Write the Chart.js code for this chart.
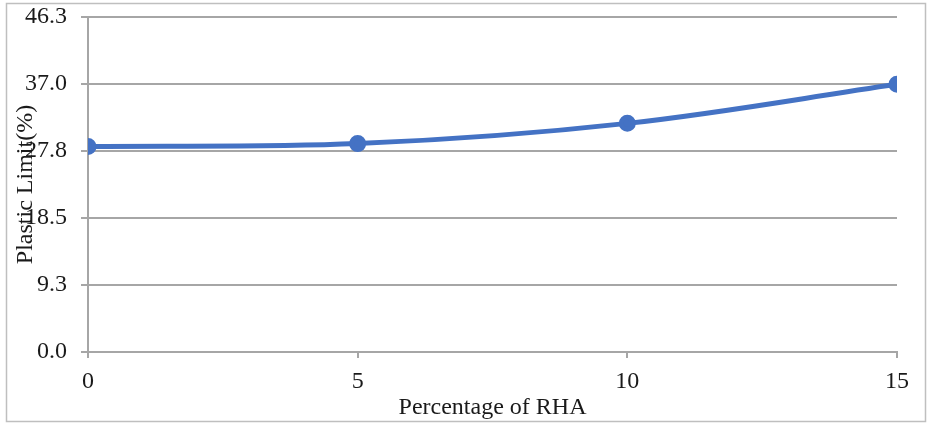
<!DOCTYPE html>
<html>
<head>
<meta charset="utf-8">
<script src="https://cdn.jsdelivr.net/npm/chart.js@4/dist/chart.umd.min.js"></script>
<style>
  html, body { margin: 0; padding: 0; background: #ffffff; }
  #wrap { width: 930px; height: 425px; position: relative; }
</style>
</head>
<body>
<div id="wrap"><canvas id="chart" width="930" height="425"></canvas></div>
<script>
// data
const rhaPercent = [0, 5, 10, 15];
const plasticLimit = [28.4, 28.8, 31.6, 37.0];
const yTickValues = [0, 9.26, 18.52, 27.78, 37.04, 46.3];
const yTickLabels = ['0.0', '9.3', '18.5', '27.8', '37.0', '46.3'];

const gridGray = '#a6a6a6';
const serif = "'Liberation Serif', 'DejaVu Serif', serif";

// gray frame around the whole chart, like the Excel chart area border
const frame = {
    id: 'frame',
    afterDraw(chart) {
        const ctx = chart.ctx;
        ctx.save();
        ctx.strokeStyle = '#bfbfbf';
        ctx.lineWidth = 1.5;
        ctx.strokeRect(6.5, 3.5, 919, 418);
        ctx.restore();
    }
};

new Chart(document.getElementById('chart').getContext('2d'), {
    type: 'line',
    data: {
        datasets: [{
            label: 'Plastic Limit',
            data: rhaPercent.map((x, i) => ({ x: x, y: plasticLimit[i] })),
            borderColor: '#4472C4',
            backgroundColor: '#4472C4',
            borderWidth: 5,
            pointRadius: 6,
            pointHoverRadius: 6,
            tension: 0.35,
            fill: false
        }]
    },
    options: {
        animation: false,
        responsive: false,
        layout: { padding: { top: 17, right: 33, left: 0, bottom: 0 } },
        plugins: {
            legend: { display: false },
            tooltip: { enabled: false }
        },
        scales: {
            x: {
                type: 'linear',
                min: 0,
                max: 15,
                ticks: {
                    stepSize: 5,
                    color: '#1a1a1a',
                    padding: 9,
                    font: { family: serif, size: 24 }
                },
                grid: {
                    display: true,
                    drawOnChartArea: false,
                    drawTicks: true,
                    tickLength: 6,
                    color: gridGray,
                    lineWidth: 2
                },
                border: { color: gridGray, width: 2 },
                title: {
                    display: true,
                    text: 'Percentage of RHA',
                    color: '#1a1a1a',
                    padding: { top: 0, bottom: 3 },
                    font: { family: serif, size: 24 }
                },
                afterFit(scale) { scale.height = 73; }
            },
            y: {
                min: 0,
                max: 46.3,
                afterBuildTicks(scale) {
                    scale.ticks = yTickValues.map(v => ({ value: v }));
                },
                ticks: {
                    color: '#1a1a1a',
                    padding: 14,
                    font: { family: serif, size: 24 },
                    callback: (v, i) => yTickLabels[i]
                },
                grid: {
                    color: gridGray,
                    lineWidth: 2,
                    tickLength: 7
                },
                border: { color: gridGray, width: 2 },
                title: {
                    display: true,
                    text: 'Plastic Limit(%)',
                    color: '#1a1a1a',
                    padding: { top: 11, bottom: 0 },
                    font: { family: serif, size: 24 }
                },
                afterFit(scale) {
                    scale.width = 88;
                    scale.paddingTop = 0;
                    scale.paddingBottom = 0;
                }
            }
        }
    },
    plugins: [frame]
});
</script>
</body>
</html>
